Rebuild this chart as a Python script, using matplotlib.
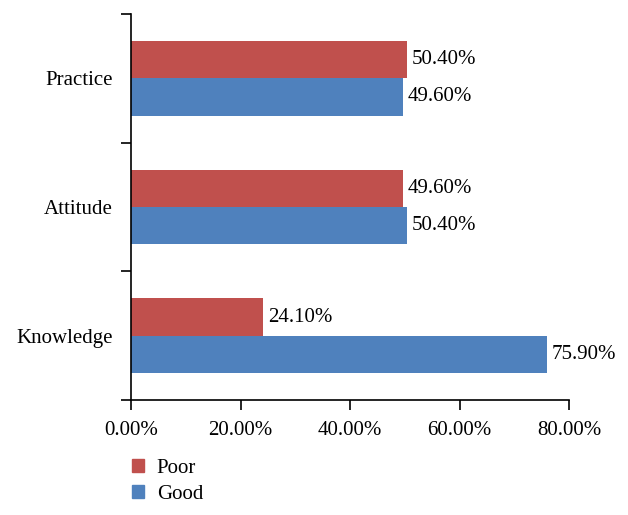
import matplotlib
matplotlib.use("Agg")
import matplotlib.pyplot as plt
from matplotlib.patches import Patch
import numpy as np

categories = ["Knowledge", "Attitude", "Practice"]
poor = [24.10, 49.60, 50.40]
good = [75.90, 50.40, 49.60]
xticks = [0, 20, 40, 60, 80]

plt.rcParams['font.family'] = ['Liberation Serif', 'DejaVu Serif']

fig = plt.figure(figsize=(6.28, 5.15), dpi=100)
ax = fig.add_axes([131/628, 1 - 400/515, (569-131)/628, (400-14)/515])

red = "#C0504D"
blue = "#4F81BD"
h = 0.29
fs = 15
y = np.arange(len(categories))
ax.barh(y + h/2, poor, height=h, color=red)
ax.barh(y - h/2, good, height=h, color=blue)

for yi, v in zip(y, poor):
    ax.text(v + 0.9, yi + h/2, f"{v:.2f}%", va="center", ha="left", fontsize=fs)
for yi, v in zip(y, good):
    ax.text(v + 0.9, yi - h/2, f"{v:.2f}%", va="center", ha="left", fontsize=fs)

ax.set_xlim(0, 80)
ax.set_ylim(-0.5, 2.5)
ax.set_xticks(xticks)
ax.set_xticklabels([f"{t:.2f}%" for t in xticks], fontsize=fs)
ax.set_yticks([-0.5, 0.5, 1.5, 2.5])
ax.set_yticklabels([])
ax.set_yticks(y, minor=True)
ax.set_yticklabels(categories, minor=True, fontsize=fs)
ax.tick_params(axis="y", which="minor", length=0, pad=13)
ax.tick_params(axis="y", which="major", length=7, width=1.2, direction="out")
ax.tick_params(axis="x", which="major", length=7, width=1.2, direction="out", pad=8)
for s in ["top", "right"]:
    ax.spines[s].set_visible(False)
for s in ["left", "bottom"]:
    ax.spines[s].set_linewidth(1.2)

handles = [Patch(color=red, label="Poor"), Patch(color=blue, label="Good")]
fig.legend(handles=handles, loc="upper left", bbox_to_anchor=(113/628, 1 - 440/515),
           frameon=False, fontsize=fs, handlelength=0.6, handleheight=0.6,
           handletextpad=0.6, labelspacing=0.35)

fig.savefig("out.png", dpi=100)
